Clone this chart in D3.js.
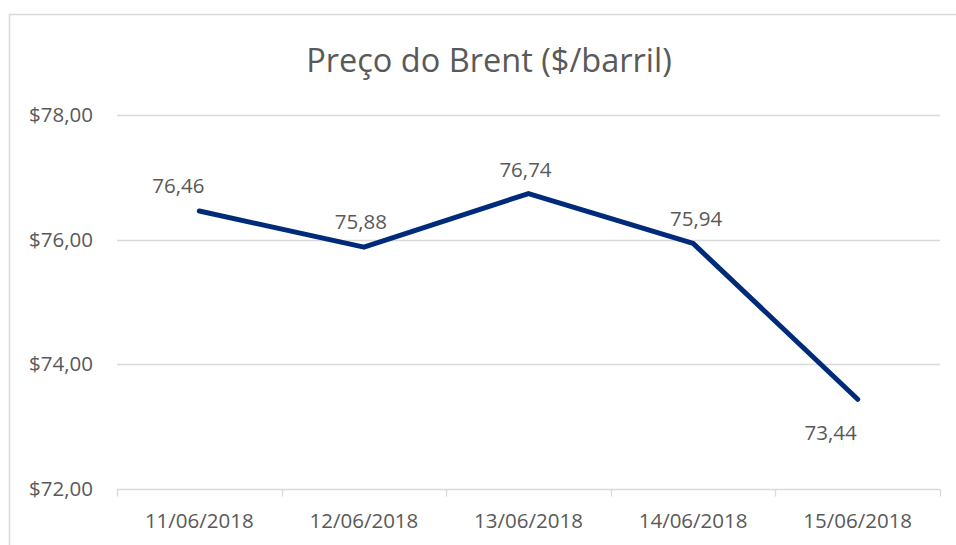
<!DOCTYPE html>
<html>
<head>
  <meta charset="utf-8">
  <title>Preço do Brent</title>
  <style>
    body { margin: 0; background: #fff; }
    text { font-family: "Open Sans", sans-serif; fill: #595959; }
  </style>
  <script src="https://cdn.jsdelivr.net/npm/d3@7"></script>
</head>
<body>
<svg id="chart"></svg>
<script>

var dates = ["11/06/2018", "12/06/2018", "13/06/2018", "14/06/2018", "15/06/2018"];
var prices = [76.46, 75.88, 76.74, 75.94, 73.44];
var yTicks = [72, 74, 76, 78];

// label nudges, [dx, dy] from the point
var labelNudge = [[-21, -25], [-3, -25], [-3, -24], [3, -25], [-27, 34]];

var width = 956, height = 545;
var margin = {left: 117, right: 16, top: 115, bottom: 56};

var svg = d3.select("#chart").attr("width", width).attr("height", height);

// chart frame (only top and left show in the crop)
svg.append("rect")
  .attr("x", 9.5).attr("y", 14.5)
  .attr("width", 960).attr("height", 560)
  .attr("fill", "none").attr("stroke", "#d9d9d9").attr("stroke-width", 1.5);

var x = d3.scaleBand()
  .domain(dates)
  .range([margin.left, width - margin.right]);

var y = d3.scaleLinear()
  .domain([72, 78])
  .range([height - margin.bottom, margin.top]);

var fmt = function(v) { return "$" + d3.format(".2f")(v).replace(".", ","); };

// gridlines
svg.append("g")
  .selectAll("line")
  .data(yTicks.slice(1))
  .join("line")
  .attr("x1", margin.left).attr("x2", width - margin.right)
  .attr("y1", function(d) { return Math.round(y(d)) + 0.5; })
  .attr("y2", function(d) { return Math.round(y(d)) + 0.5; })
  .attr("stroke", "#d9d9d9").attr("stroke-width", 1.3);

// y labels
var yAxis = svg.append("g")
  .attr("transform", "translate(" + margin.left + ",0)")
  .call(d3.axisLeft(y).tickValues(yTicks).tickFormat(fmt).tickSize(0).tickPadding(24));
yAxis.select(".domain").remove();
yAxis.selectAll("text")
  .style("font-family", "'Open Sans', sans-serif")
  .style("font-size", "20.5px").attr("fill", "#595959");

// x axis with ticks between categories
var xAxisY = Math.round(y(72)) + 0.5;
svg.append("line")
  .attr("x1", margin.left).attr("x2", width - margin.right)
  .attr("y1", xAxisY).attr("y2", xAxisY)
  .attr("stroke", "#d9d9d9").attr("stroke-width", 1.3);

var bounds = dates.map(function(d) { return x(d); }).concat([x.range()[1]]);
svg.append("g")
  .selectAll("line")
  .data(bounds)
  .join("line")
  .attr("x1", function(d) { return Math.round(d) + 0.5; })
  .attr("x2", function(d) { return Math.round(d) + 0.5; })
  .attr("y1", xAxisY).attr("y2", xAxisY + 7)
  .attr("stroke", "#d9d9d9").attr("stroke-width", 1.3);

svg.append("g")
  .selectAll("text")
  .data(dates)
  .join("text")
  .attr("x", function(d) { return x(d) + x.bandwidth() / 2; })
  .attr("y", xAxisY + 31)
  .attr("dy", "0.35em")
  .attr("text-anchor", "middle")
  .style("font-size", "20.5px")
  .text(function(d) { return d; });

// line
var line = d3.line()
  .x(function(d, i) { return x(dates[i]) + x.bandwidth() / 2; })
  .y(function(d) { return y(d); });

svg.append("path")
  .datum(prices)
  .attr("d", line)
  .attr("fill", "none")
  .attr("stroke", "#002a7a")
  .attr("stroke-width", 5)
  .attr("stroke-linejoin", "round")
  .attr("stroke-linecap", "round");

// data labels
svg.append("g")
  .selectAll("text")
  .data(prices)
  .join("text")
  .attr("x", function(d, i) { return x(dates[i]) + x.bandwidth() / 2 + labelNudge[i][0]; })
  .attr("y", function(d, i) { return y(d) + labelNudge[i][1]; })
  .attr("dy", "0.35em")
  .attr("text-anchor", "middle")
  .style("font-size", "20.5px")
  .attr("fill", "#404040")
  .text(function(d) { return d3.format(".2f")(d).replace(".", ","); });

// title
svg.append("text")
  .attr("x", 489)
  .attr("y", 61)
  .attr("dy", "0.35em")
  .attr("text-anchor", "middle")
  .style("font-size", "32.5px")
  .text("Preço do Brent ($/barril)");

</script>
</body>
</html>
